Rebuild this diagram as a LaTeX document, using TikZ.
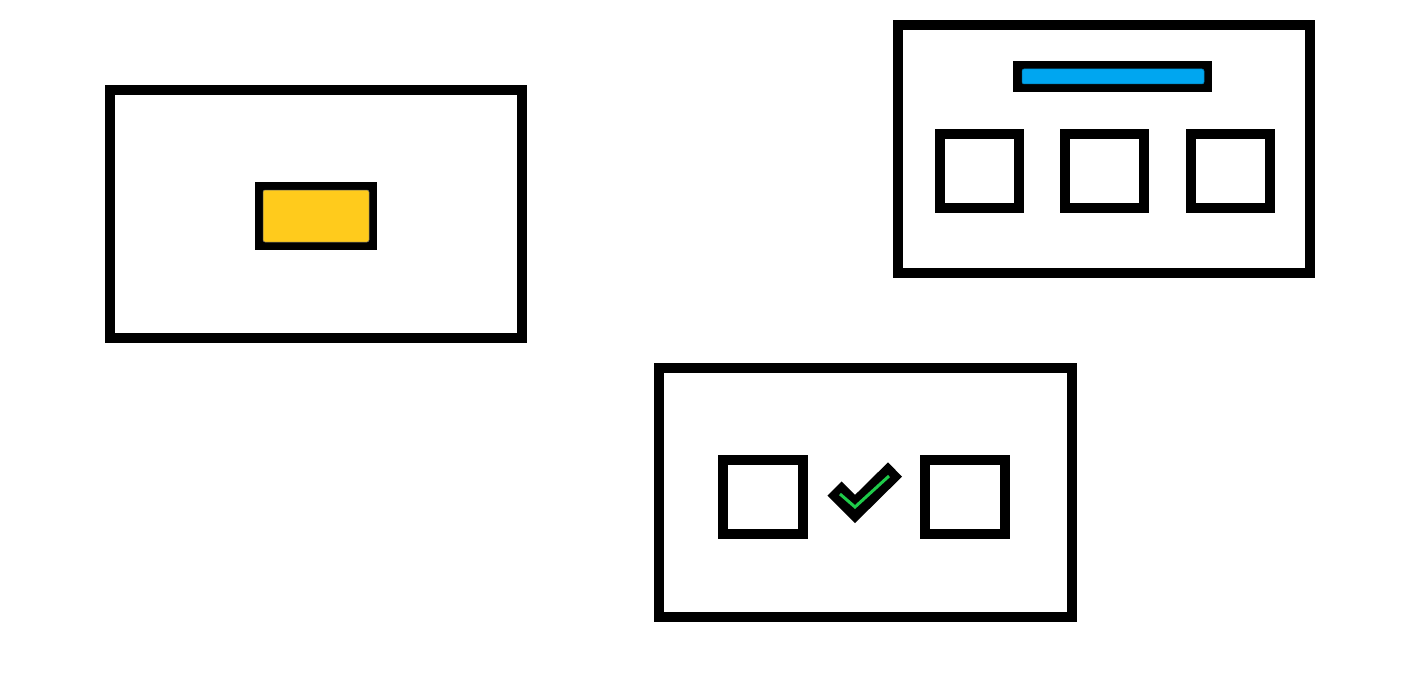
\documentclass[tikz,border=0pt]{standalone}
\usepackage{tikz}
\definecolor{myyellow}{HTML}{FFCB1C}
\definecolor{myblue}{HTML}{00A6F0}
\definecolor{mygreen}{HTML}{1FCB4A}
\tikzset{
  frame/.style={draw=black, line width=10pt, fill=white},
  slot/.style={draw=black, line width=10pt, fill=white},
  plate/.style={fill=black},
  chip/.style={rounded corners=2pt, draw=black!60, line width=0.5pt},
}
\begin{document}
\begin{tikzpicture}[x=1pt,y=-1pt]
\useasboundingbox (0,0) rectangle (1416,682);
% Box 1
\draw[frame] (110,90) rectangle (522,338);
\fill[plate] (255,182) rectangle (377,250);
\draw[chip, fill=myyellow] (263,190) rectangle (369,242);
% Box 2
\draw[frame] (898,25) rectangle (1310,273);
\fill[plate] (1013,61) rectangle (1212,92);
\draw[chip, fill=myblue, draw=myblue!70!black] (1022,69) rectangle (1204,84);
\draw[slot] (940,134) rectangle (1019,208);
\draw[slot] (1065,134) rectangle (1144,208);
\draw[slot] (1191,134) rectangle (1270,208);
% Box 3
\draw[frame] (659,368) rectangle (1072,617);
\draw[slot] (723,460) rectangle (803,534);
\draw[slot] (925,460) rectangle (1005,534);
\draw[black, line width=20pt, line cap=butt, line join=miter] (834.5,488.5) -- (855,509) -- (895,469.5);
\draw[mygreen, line width=3pt, line cap=butt, line join=miter] (840,494) -- (855,507) -- (889,476);
\end{tikzpicture}
\end{document}
